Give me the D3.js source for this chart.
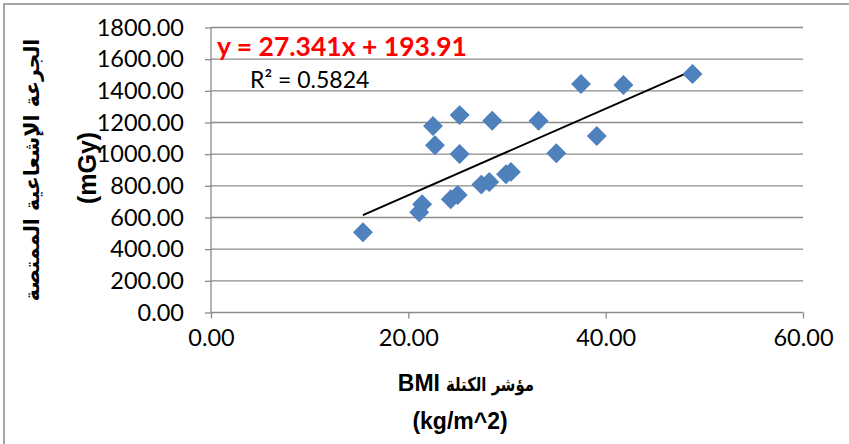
<!DOCTYPE html>
<html lang="ar">
    <head>
        <meta charset="utf-8">
        <script src="https://d3js.org/d3.v7.min.js"></script>
        <title>BMI vs absorbed dose</title>
        <style>
            body { margin: 0; background: #fff; }
            svg text { font-family: Lato, "DejaVu Sans", sans-serif; }
        </style>
    </head>
    <body>
        <div id="plot"></div>
        <script type="text/javascript">
            // BMI (kg/m^2) and absorbed dose (mGy)
            var bmi  = [15.4, 21.1, 21.4, 24.3, 25.0, 27.4, 28.2, 29.9, 30.4, 22.5,
                        22.7, 25.2, 25.2, 28.5, 33.2, 35.0, 37.5, 39.1, 41.8, 48.8];
            var dose = [507, 633, 684, 715, 742, 808, 824, 873, 888, 1178,
                        1056, 1247, 1001, 1211, 1211, 1006, 1443, 1115, 1437, 1506];
            var xTicks = [0, 20, 40, 60];
            var yTicks = [0, 200, 400, 600, 800, 1000, 1200, 1400, 1600, 1800];
            // trendline as given in the chart
            var slope = 27.341, intercept = 193.91, r2 = "0.5824";

            var W = 849, H = 444;
            var svg = d3.select("#plot").append("svg")
                        .attr("width", W).attr("height", H);

            // chart border (right/bottom fall outside the picture)
            svg.append("rect")
                .attr("x", 4).attr("y", 4).attr("width", 900).attr("height", 500)
                .attr("fill", "none").attr("stroke", "#a6a6a6").attr("stroke-width", 2);

            var x = d3.scaleLinear().domain([0, 60]).range([211, 803]);
            var y = d3.scaleLinear().domain([0, 1800]).range([312.5, 27.5]);

            // gridlines
            svg.append("g").selectAll("line")
                .data(yTicks.slice(1))
                .enter().append("line")
                .attr("x1", x(0)).attr("x2", x(60))
                .attr("y1", function(d){ return y(d); })
                .attr("y2", function(d){ return y(d); })
                .attr("stroke", "#8c8c8c").attr("stroke-width", 1.3);

            // axes
            var xAxis = svg.append("g")
                .attr("transform", "translate(0," + y(0) + ")")
                .call(d3.axisBottom(x).tickValues(xTicks).tickSize(6).tickPadding(11)
                        .tickFormat(d3.format(".2f")));
            var yAxis = svg.append("g")
                .attr("transform", "translate(" + x(0) + ",0)")
                .call(d3.axisLeft(y).tickValues(yTicks).tickSize(6).tickPadding(21)
                        .tickFormat(d3.format(".2f")));
            [xAxis, yAxis].forEach(function(a){
                a.select(".domain").attr("stroke", "#8c8c8c").attr("stroke-width", 1.3);
                a.selectAll(".tick line").attr("stroke", "#8c8c8c").attr("stroke-width", 1.3);
                a.selectAll(".tick text").attr("fill", "#000")
                    .style("font-family", "Lato, sans-serif").style("font-size", "23.5px");
            });
            yAxis.select(".domain").attr("d", "M0," + y(1800) + "V" + y(0));
            xAxis.select(".domain").attr("d", "M" + x(0) + ",0H" + x(60));

            // trendline from min to max x
            var xmin = d3.min(bmi), xmax = d3.max(bmi);
            svg.append("line")
                .attr("x1", x(xmin)).attr("y1", y(slope * xmin + intercept))
                .attr("x2", x(xmax)).attr("y2", y(slope * xmax + intercept))
                .attr("stroke", "#000").attr("stroke-width", 2);

            // diamond markers
            var diamond = d3.symbol().type(d3.symbolSquare).size(170);
            svg.append("g").selectAll("path")
                .data(d3.range(bmi.length))
                .enter().append("path")
                .attr("d", diamond)
                .attr("transform", function(i){
                    return "translate(" + x(bmi[i]) + "," + y(dose[i]) + ") rotate(45)";
                })
                .attr("fill", "#4f81bd").attr("stroke", "#4a7ebb").attr("stroke-width", 1);

            // equation labels
            svg.append("text")
                .attr("x", 217).attr("y", 56)
                .attr("fill", "#ff0000").attr("font-weight", "bold")
                .style("font-size", "26.5px")
                .text("y = " + slope + "x + " + intercept);
            svg.append("text")
                .attr("x", 250).attr("y", 88)
                .attr("fill", "#000")
                .style("font-size", "23px")
                .text("R\u00b2 = " + r2);

            // x axis title: latin and arabic parts set separately
            svg.append("text")
                .attr("text-anchor", "end")
                .attr("x", 440).attr("y", 391)
                .attr("font-weight", "bold")
                .style("font-family", "'Liberation Sans', sans-serif")
                .style("font-size", "23px")
                .text("BMI");
            svg.append("text")
                .attr("text-anchor", "start")
                .attr("x", 446).attr("y", 391)
                .attr("font-weight", "bold")
                .attr("textLength", 88).attr("lengthAdjust", "spacingAndGlyphs")
                .style("font-family", "'DejaVu Sans', sans-serif")
                .style("font-size", "19px")
                .text("مؤشر الكتلة");
            svg.append("text")
                .attr("text-anchor", "middle")
                .attr("x", 460).attr("y", 429)
                .attr("font-weight", "bold")
                .style("font-family", "'Liberation Sans', sans-serif")
                .style("font-size", "23px")
                .text("(kg/m^2)");

            svg.append("text")
                .attr("text-anchor", "middle")
                .attr("transform", "translate(39,170) rotate(-90)")
                .attr("font-weight", "bold")
                .style("font-family", "'DejaVu Sans', sans-serif")
                .style("font-size", "20.5px")
                .attr("direction", "rtl")
                .text("الجرعة الإشعاعية الممتصة");
            svg.append("text")
                .attr("text-anchor", "middle")
                .attr("transform", "translate(96,168) rotate(-90)")
                .attr("font-weight", "bold")
                .style("font-family", "'Liberation Sans', sans-serif")
                .style("font-size", "25px")
                .text("(mGy)");
        </script>
    </body>
</html>
